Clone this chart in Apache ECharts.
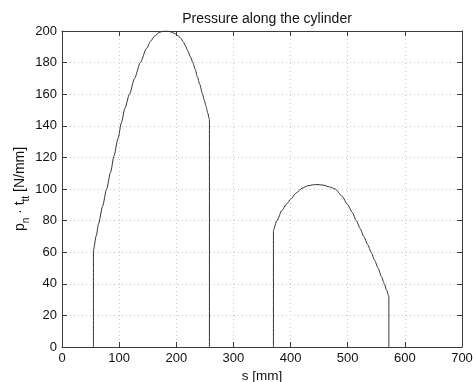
<!DOCTYPE html>
<html>
<head>
<meta charset="utf-8">
<script src="https://cdn.jsdelivr.net/npm/echarts@6/dist/echarts.min.js"></script>
<style>
html,body{margin:0;padding:0;background:#fff;overflow:hidden;}
#chart{width:473px;height:382px;}
</style>
</head>
<body>
<div id="chart"></div>
<script>
// Region 1 of contact: position s [mm] and pressure p_n*t_tt [N/mm]
var zone1S = [55, 55, 60, 64, 71, 78, 85, 91, 98, 104, 110, 118, 127, 137, 148, 155, 162, 170, 176, 181, 187, 192, 198, 203, 208, 212, 216, 220, 225, 229, 233, 237, 241, 246, 249, 252, 255, 258, 258];
var zone1P = [0, 61.5, 70.5, 78, 89, 100, 110.5, 121, 132, 142, 151, 160, 170, 180, 189, 193.5, 196.8, 199, 199.8, 200, 199.8, 199.2, 198.3, 197, 195.3, 193.3, 190.7, 187.5, 183.5, 180, 175.8, 171, 166.3, 160, 156.2, 152.3, 148.2, 144, 0];
// Region 2 of contact
var zone2S = [370, 370, 376, 385, 393, 400, 410, 420, 430, 440, 448, 458, 468, 478, 490, 500, 508, 515, 522, 528, 535, 541, 547, 553, 559, 564, 568, 572, 572];
var zone2P = [0, 74, 80, 86.5, 90.5, 93.5, 97.5, 100.5, 102, 102.7, 102.8, 102.4, 101.3, 100, 95.5, 90, 85.2, 80, 74.8, 70, 64.8, 60, 55, 50, 44.6, 40, 36, 32, 0];
var xMin = 0, xMax = 700, xStep = 100;
var yMin = 0, yMax = 200, yStep = 20;

function pairs(xs, ys) { return xs.map(function (x, i) { return [x, ys[i]]; }); }

var font = 'Liberation Sans, Arial, Helvetica, sans-serif';
var axisColor = '#3a3a3a';
var textColor = '#111';
var chart = echarts.init(document.getElementById('chart'), null, {renderer: 'canvas'});

var gridPos = {left: 62, top: 31, width: 400, height: 316, containLabel: false, outerBoundsMode: 'none'};

function baseX(pos, show) {
  return {
    type: 'value', position: pos, min: xMin, max: xMax, interval: xStep,
    axisLine: {show: true, onZero: false, lineStyle: {color: axisColor, width: 1}},
    axisTick: {show: true, inside: true, length: 5, lineStyle: {color: axisColor}},
    axisLabel: {show: show, color: textColor, fontSize: 13, fontFamily: font, margin: 5},
    splitLine: {show: show, lineStyle: {color: '#c8c8c8', type: [1, 3], width: 1}}
  };
}
function baseY(pos, show) {
  return {
    type: 'value', position: pos, min: yMin, max: yMax, interval: yStep,
    axisLine: {show: true, onZero: false, lineStyle: {color: axisColor, width: 1}},
    axisTick: {show: true, inside: true, length: 5, lineStyle: {color: axisColor}},
    axisLabel: {show: show, color: textColor, fontSize: 13, fontFamily: font, margin: 5},
    splitLine: {show: show, lineStyle: {color: '#c8c8c8', type: [1, 3], width: 1}}
  };
}

var x0 = baseX('bottom', true);
x0.name = 's [mm]';
x0.nameLocation = 'middle';
x0.nameGap = 22;
x0.nameMoveOverlap = false;
x0.nameTextStyle = {color: textColor, fontSize: 13.5, fontFamily: font};
var x1 = baseX('top', false);

var y0 = baseY('left', true);
y0.name = '{m|p}{s|n}{m| · t}{s|tt}{m| [N/mm]}';
y0.nameLocation = 'middle';
y0.nameGap = 31;
y0.nameMoveOverlap = false;
y0.nameRotate = 90;
y0.nameTextStyle = {
  color: textColor, fontFamily: font,
  rich: {
    m: {fontSize: 14, fontFamily: font, color: textColor, lineHeight: 22, verticalAlign: 'middle'},
    s: {fontSize: 10, fontFamily: font, color: textColor, lineHeight: 10, verticalAlign: 'bottom'}
  }
};
var y1 = baseY('right', false);

var lineStyle = {color: '#333', width: 1};

chart.setOption({
  backgroundColor: '#fff',
  animation: false,
  title: {
    text: 'Pressure along the cylinder', left: 262, top: 7, textAlign: 'center',
    textStyle: {color: textColor, fontSize: 14, fontWeight: 'normal', fontFamily: font}
  },
  grid: gridPos,
  xAxis: [x0, x1],
  yAxis: [y0, y1],
  series: [
    {type: 'line', xAxisIndex: 0, yAxisIndex: 0, data: pairs(zone1S, zone1P), showSymbol: false, symbol: 'none', smooth: 0.25, smoothMonotone: 'x', lineStyle: lineStyle, z: 3},
    {type: 'line', xAxisIndex: 0, yAxisIndex: 0, data: pairs(zone2S, zone2P), showSymbol: false, symbol: 'none', smooth: 0.25, smoothMonotone: 'x', lineStyle: lineStyle, z: 3}
  ]
});
</script>
</body>
</html>
